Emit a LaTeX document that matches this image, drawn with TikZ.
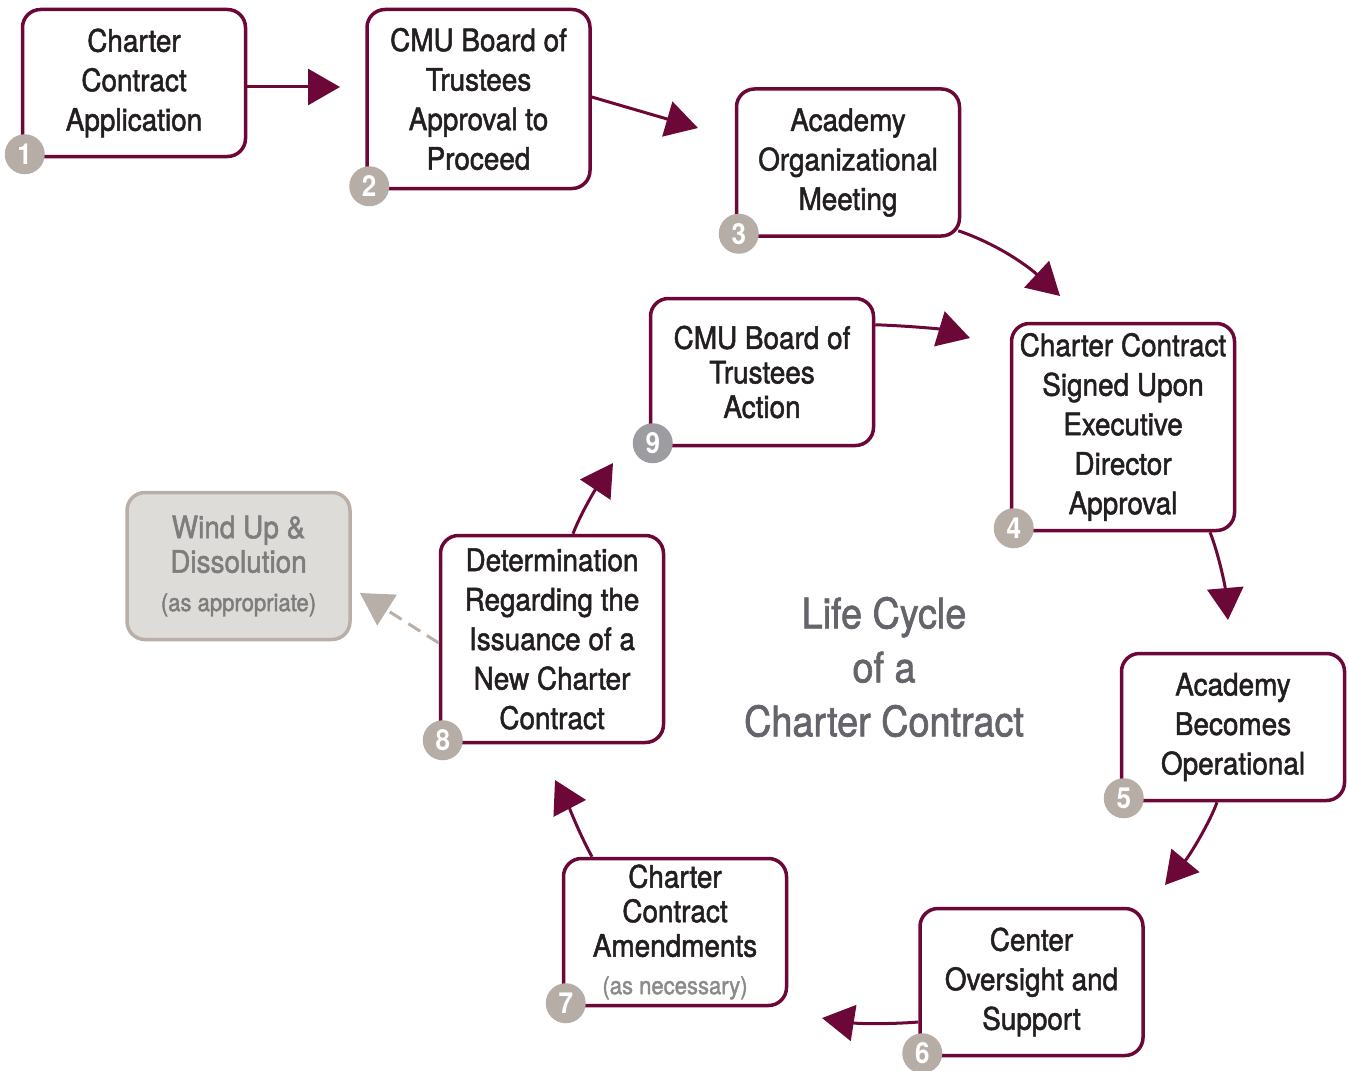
\documentclass[tikz,border=0pt]{standalone}
\usepackage{fontspec}
\setmainfont{TeX Gyre Heros}[FakeStretch=0.9, FakeBold=1.6]
\newfontfamily\badgefont{TeX Gyre Heros}[FakeStretch=0.9]
\usetikzlibrary{arrows.meta}
\definecolor{maroon}{HTML}{6C0837}
\definecolor{txt}{HTML}{231F20}
\definecolor{badgegray}{HTML}{B6ADA6}
\definecolor{badgedark}{HTML}{9D9CA1}
\definecolor{wfill}{HTML}{DEDCD9}
\definecolor{wborder}{HTML}{B8AFA8}
\definecolor{wtext}{HTML}{7D7D7D}
\definecolor{subtext}{HTML}{8A8A8A}
\definecolor{titletext}{HTML}{64646A}
\newcommand\bxfont{\fontsize{31}{39.5}\selectfont}
\newcommand\bxtight{\fontsize{31}{34.5}\selectfont}
\newcommand\smfont{\fontsize{24.5}{30}\selectfont}
\begin{document}
\begin{tikzpicture}[x=1pt,y=-1pt,
  box/.style={draw=maroon, line width=3.5pt, rounded corners=18pt, fill=white,
    minimum width=223pt, minimum height=147pt, inner sep=0pt, align=center,
    text=txt, font=\bxfont},
  tallbox/.style={box, minimum height=179pt},
  talllbox/.style={box, minimum height=207pt},
  windbox/.style={box, draw=wborder, fill=wfill, text=wtext, font=\bxtight},
  badge/.style={circle, fill=badgegray, text=white, minimum size=40pt, inner sep=0pt,
    font=\badgefont\bfseries\fontsize{29}{29}\selectfont},
  arr/.style={draw=maroon, line width=3pt, -{Triangle[length=32pt,width=36pt]}},
  darr/.style={draw=wborder, line width=3pt, dash pattern=on 14pt off 8pt,
    -{Triangle[length=32pt,width=36pt]}},
  title/.style={align=center, text=titletext, font=\fontsize{42}{54}\selectfont}
]
\useasboundingbox (0,0) rectangle (1348,1070);

% boxes
\node[box] (b1) at (134,83) {Charter\\Contract\\Application};
\node[tallbox] (b2) at (478.5,99) {CMU Board of\\Trustees\\Approval to\\Proceed};
\node[box] (b3) at (848,162.5) {Academy\\Organizational\\Meeting};
\node[talllbox] (b4) at (1123,427) {Charter Contract\\Signed Upon\\Executive\\Director\\Approval};
\node[box] (b5) at (1233,727) {Academy\\Becomes\\Operational};
\node[box] (b6) at (1031.5,982) {Center\\Oversight and\\Support};
\node[box, font=\bxtight] (b7) at (675,932) {Charter\\Contract\\Amendments\\[3pt]{\smfont\color{subtext}(as necessary)}};
\node[talllbox] (b8) at (552,639) {Determination\\Regarding the\\Issuance of a\\New Charter\\Contract};
\node[box, font=\bxtight] (b9) at (762,372) {CMU Board of\\Trustees\\Action};
\node[windbox] (w) at (238.5,566) {Wind Up \&\\Dissolution\\[4pt]{\smfont(as appropriate)}};

% title
\node[title] (t) at (884,667) {Life Cycle\\of a\\Charter Contract};

% badges
\node[badge] (n1) at ([shift={(4pt,4pt)}]b1.south west) {1};
\node[badge] (n2) at ([shift={(4pt,4pt)}]b2.south west) {2};
\node[badge] (n3) at ([shift={(4pt,4pt)}]b3.south west) {3};
\node[badge] (n4) at ([shift={(4pt,4pt)}]b4.south west) {4};
\node[badge] (n5) at ([shift={(4pt,4pt)}]b5.south west) {5};
\node[badge] (n6) at ([shift={(4pt,4pt)}]b6.south west) {6};
\node[badge] (n7) at ([shift={(4pt,4pt)}]b7.south west) {7};
\node[badge] (n8) at ([shift={(4pt,4pt)}]b8.south west) {8};
\node[badge, fill=badgedark] (n9) at ([shift={(4pt,4pt)}]b9.south west) {9};

% arrow tips
\coordinate (t12) at (340,87);
\coordinate (t23) at (698,128);
\coordinate (t34) at (1060,296);
\coordinate (t94) at (970,338);
\coordinate (t45) at (1228,620);
\coordinate (t56) at (1165,885);
\coordinate (t67) at (822,1018);
\coordinate (t78) at (555,780);
\coordinate (t89) at (613,463);
\coordinate (t8w) at (360,593);

% connectors
\draw[arr] ([yshift=-4pt]b1.east) -- (t12);
\draw[arr] ([yshift=2pt]b2.east) -- (t23);
\draw[arr] ([shift={(-3pt,7pt)}]b3.south east) .. controls (1000,245) and (1030,268) .. (t34);
\draw[arr] ([yshift=-28pt]b9.north east) .. controls (910,326) and (940,329) .. (t94);
\draw[arr] ([xshift=87pt]b4.south) .. controls (1218,552) and (1225,585) .. (t45);
\draw[arr] ([xshift=-16pt]b5.south) .. controls (1210,822) and (1190,855) .. (t56);
\draw[arr] ([yshift=-40pt]b6.west) .. controls (895,1024) and (860,1024) .. (t67);
\draw[arr] ([xshift=-83pt]b7.north) .. controls (580,835) and (568,805) .. (t78);
\draw[arr] ([xshift=21pt]b8.north) .. controls (580,515) and (595,490) .. (t89);
\draw[darr] ([yshift=-4pt]b8.west) -- (t8w);
\end{tikzpicture}
\end{document}
